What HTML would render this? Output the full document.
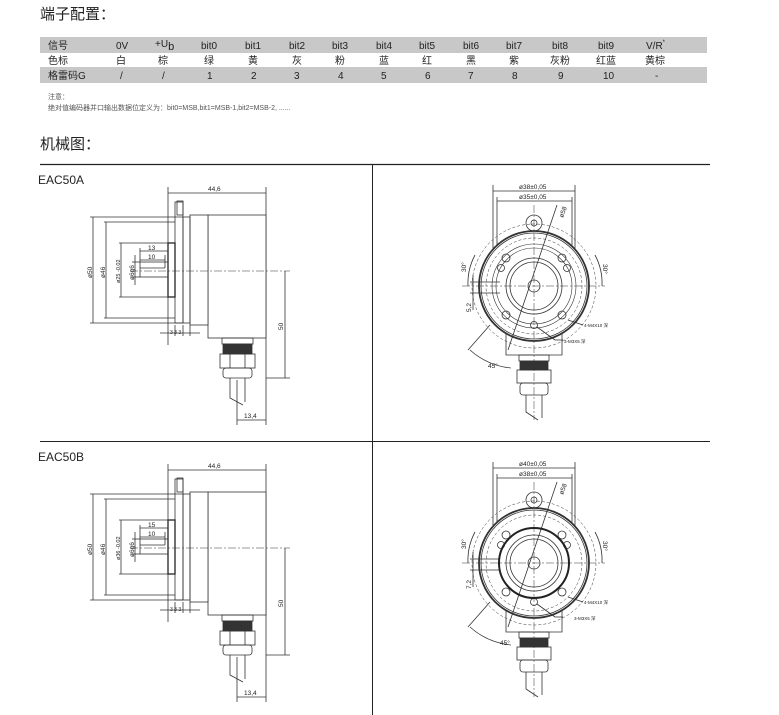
<!DOCTYPE html>
<html><head><meta charset="utf-8"><style>
body{margin:0;background:#fff;width:779px;height:715px;overflow:hidden}
svg{display:block}
text{font-family:"Liberation Sans","Noto Sans CJK SC",sans-serif;fill:#222}
</style></head><body>
<svg width="779" height="715" viewBox="0 0 779 715" xmlns="http://www.w3.org/2000/svg">
<defs>
<g id="leftA" stroke="#333" stroke-width="0.8" fill="none">
  <line x1="168" y1="187" x2="168" y2="345"/>
  <line x1="266" y1="187" x2="266" y2="425"/>
  <line x1="168" y1="193" x2="266" y2="193"/>
  <rect x="208" y="215" width="58" height="123" fill="#fff"/>
  <rect x="190" y="215" width="18" height="110" fill="#fff"/>
  <rect x="183" y="217" width="7" height="106"/>
  <rect x="175" y="202" width="8" height="121"/>
  <rect x="177" y="201" width="6" height="14"/>
  <rect x="168" y="243" width="7" height="54" stroke-width="1.4"/>
  <rect x="140" y="262" width="28" height="15"/>
  <line x1="140" y1="268" x2="165" y2="268"/>
  <line x1="130" y1="271" x2="290" y2="271" stroke-dasharray="8,2,2,2" stroke-width="0.5"/>
  <rect x="222" y="338" width="31" height="6"/>
  <rect x="223" y="344" width="29" height="10" fill="#333"/>
  <rect x="220" y="354" width="35" height="14"/>
  <line x1="230" y1="354" x2="230" y2="368"/><line x1="245" y1="354" x2="245" y2="368"/>
  <rect x="223" y="368" width="29" height="10" rx="3"/>
  <path d="M230 378 L230 398 L243 405 M245 378 L245 402"/>
  <line x1="266" y1="378" x2="290" y2="378"/>
  <line x1="285" y1="271" x2="285" y2="378"/>
  <line x1="237" y1="380" x2="237" y2="425"/>
  <line x1="237" y1="420" x2="266" y2="420"/>
  <line x1="93" y1="217" x2="93" y2="323"/>
  <line x1="90" y1="217" x2="183" y2="217"/><line x1="90" y1="323" x2="183" y2="323"/>
  <line x1="106" y1="222" x2="106" y2="318"/>
  <line x1="104" y1="222" x2="175" y2="222"/><line x1="104" y1="318" x2="175" y2="318"/>
  <line x1="121" y1="243" x2="121" y2="297"/>
  <line x1="119" y1="243" x2="168" y2="243"/><line x1="119" y1="297" x2="168" y2="297"/>
  <line x1="135" y1="255" x2="135" y2="285"/>
  <line x1="132" y1="262" x2="140" y2="262"/><line x1="132" y1="277" x2="140" y2="277"/>
  <line x1="140" y1="248" x2="140" y2="262"/><line x1="165" y1="255" x2="165" y2="268"/>
  <line x1="140" y1="251" x2="168" y2="251"/><line x1="140" y1="260" x2="165" y2="260"/>
  <line x1="160" y1="333" x2="200" y2="333"/>
  <line x1="175" y1="325" x2="175" y2="336"/><line x1="183" y1="325" x2="183" y2="336"/><line x1="190" y1="325" x2="190" y2="336"/>
</g>
<g id="rightA" stroke="#333" stroke-width="0.8" fill="none">
  <line x1="493" y1="185" x2="493" y2="290"/>
  <line x1="575" y1="185" x2="575" y2="290"/>
  <line x1="497" y1="197" x2="497" y2="290"/>
  <line x1="572" y1="197" x2="572" y2="290"/>
  <line x1="493" y1="191" x2="575" y2="191"/>
  <line x1="497" y1="201" x2="572" y2="201"/>
  <circle cx="534" cy="223" r="8"/><circle cx="534" cy="223" r="3"/>
  <path d="M506 330 L506 355 L562 355 L562 330"/>
  <circle cx="534" cy="286" r="55" stroke-width="1.8" fill="#fff"/>
  <circle cx="534" cy="286" r="53"/>
  <circle cx="534" cy="286" r="48" stroke-dasharray="3,2" stroke-width="0.5"/>
  <circle cx="534" cy="286" r="62" stroke-dasharray="3,2" stroke-width="0.5"/>
  <circle cx="534" cy="286" r="28"/>
  <circle cx="534" cy="286" r="24"/>
  <circle cx="534" cy="286" r="6"/>
  <circle cx="506" cy="258" r="4"/><circle cx="562" cy="258" r="4"/>
  <circle cx="501" cy="268" r="3.5"/><circle cx="567" cy="268" r="3.5"/>
  <circle cx="506" cy="315" r="4"/><circle cx="562" cy="315" r="4"/>
  <circle cx="534" cy="325" r="3.5"/>
  <line x1="462" y1="286" x2="605" y2="286" stroke-width="0.5" stroke-dasharray="8,2,2,2"/>
  <line x1="534" y1="205" x2="534" y2="420" stroke-width="0.5" stroke-dasharray="8,2,2,2"/>
  <line x1="508" y1="350" x2="557" y2="205"/>
  <line x1="470" y1="282" x2="500" y2="282"/>
  <line x1="470" y1="293" x2="500" y2="293"/>
  <line x1="473" y1="275" x2="473" y2="310"/>
  <path d="M475 255 A60 60 0 0 0 468 286"/>
  <path d="M595 255 A60 60 0 0 1 602 286"/>
  <line x1="468" y1="350" x2="490" y2="325"/>
  <path d="M470 350 A72 72 0 0 0 511 368"/>
  <line x1="568" y1="320" x2="583" y2="325"/>
  <line x1="537" y1="327" x2="555" y2="340"/><line x1="555" y1="340" x2="563" y2="340"/>
  <rect x="519" y="355" width="30" height="6"/>
  <rect x="520" y="361" width="28" height="9" fill="#333"/>
  <rect x="517" y="370" width="34" height="13"/>
  <rect x="520" y="383" width="28" height="12" rx="3"/>
  <path d="M526 395 L526 412 L538 420 M542 395 L542 418"/>
</g>
</defs>

<text x="40" y="19" font-size="15">端子配置：</text>
<rect x="40" y="37" width="667" height="16" fill="#c8c8c8"/>
<rect x="40" y="67" width="667" height="16" fill="#c8c8c8"/>
<g font-size="10" style="fill:#555">
<text x="48" y="49">信号</text><text x="116" y="49">0V</text><text x="155" y="47">+U<tspan font-size="11" dy="3">b</tspan></text>
<text x="201" y="49">bit0</text><text x="245" y="49">bit1</text><text x="289" y="49">bit2</text><text x="332" y="49">bit3</text><text x="376" y="49">bit4</text><text x="419" y="49">bit5</text><text x="463" y="49">bit6</text><text x="506" y="49">bit7</text><text x="552" y="49">bit8</text><text x="598" y="49">bit9</text><text x="646" y="49">V/R<tspan font-size="6" dy="-5">*</tspan></text>
<text x="48" y="64">色标</text><text x="116" y="64">白</text><text x="158" y="64">棕</text><text x="204" y="64">绿</text><text x="248" y="64">黄</text><text x="292" y="64">灰</text><text x="335" y="64">粉</text><text x="379" y="64">蓝</text><text x="422" y="64">红</text><text x="466" y="64">黑</text><text x="509" y="64">紫</text><text x="550" y="64">灰粉</text><text x="596" y="64">红蓝</text><text x="645" y="64">黄棕</text>
<text x="48" y="79">格雷码G</text><text x="120" y="79">/</text><text x="162" y="79">/</text><text x="207" y="79">1</text><text x="251" y="79">2</text><text x="294" y="79">3</text><text x="338" y="79">4</text><text x="381" y="79">5</text><text x="425" y="79">6</text><text x="468" y="79">7</text><text x="512" y="79">8</text><text x="558" y="79">9</text><text x="603" y="79">10</text><text x="655" y="79">-</text>
</g>
<text x="48" y="99" font-size="7" style="fill:#555">注意：</text>
<text x="48" y="110" font-size="7" style="fill:#555">绝对值编码器并口输出数据位定义为：bit0=MSB,bit1=MSB-1,bit2=MSB-2, ......</text>
<text x="40" y="149" font-size="15">机械图：</text>

<line x1="40" y1="164.5" x2="710" y2="164.5" stroke="#222" stroke-width="1.2"/>
<line x1="372.5" y1="164" x2="372.5" y2="715" stroke="#222" stroke-width="1"/>
<line x1="40" y1="441.5" x2="710" y2="441.5" stroke="#222" stroke-width="1"/>

<text x="38" y="184" font-size="12">EAC50A</text>
<text x="38" y="461" font-size="12">EAC50B</text>

<use href="#leftA"/>
<use href="#rightA"/>
<use href="#leftA" transform="translate(0,277)"/>
<use href="#rightA" transform="translate(0,277)"/>
<circle cx="534" cy="563" r="35" stroke="#222" stroke-width="2" fill="none"/>
<circle cx="534" cy="286" r="38" stroke="#333" stroke-width="0.6" fill="none"/>
<circle cx="534" cy="286" r="42" stroke="#333" stroke-width="0.6" fill="none"/>

<g font-size="6.5" fill="#333">
<text x="208" y="191">44,6</text><text x="208" y="468">44,6</text>
<text x="148" y="250">13</text><text x="148" y="527">15</text>
<text x="148" y="259">10</text><text x="148" y="536">10</text>
<text x="244" y="418">13,4</text><text x="244" y="695">13,4</text>
<text x="170" y="334" font-size="5">3 3 3</text><text x="170" y="611" font-size="5">3 3 3</text>
<text transform="translate(283,330) rotate(-90)">50</text><text transform="translate(283,607) rotate(-90)">50</text>
<text transform="translate(92,278) rotate(-90)">ø50</text><text transform="translate(92,555) rotate(-90)">ø50</text>
<text transform="translate(105,278) rotate(-90)">ø46</text><text transform="translate(105,555) rotate(-90)">ø46</text>
<text transform="translate(120,283) rotate(-90)" font-size="5.5">ø25 -0.02</text><text transform="translate(120,560) rotate(-90)" font-size="5.5">ø36 -0.02</text>
<text transform="translate(134,280) rotate(-90)" font-size="6.5">ø6g6</text><text transform="translate(134,557) rotate(-90)" font-size="6.5">ø6g6</text>
<text x="519" y="189">ø38±0,05</text><text x="519" y="466">ø40±0,05</text>
<text x="519" y="199">ø35±0,05</text><text x="519" y="476">ø38±0,05</text>
<text transform="translate(563,218) rotate(-70)">ø58</text><text transform="translate(563,495) rotate(-70)">ø58</text>
<text transform="translate(466,272) rotate(-90)">30°</text><text transform="translate(466,549) rotate(-90)">30°</text>
<text transform="translate(603,264) rotate(90)">30°</text><text transform="translate(603,541) rotate(90)">30°</text>
<text transform="translate(471,312) rotate(-90)">5,2</text><text transform="translate(471,589) rotate(-90)">7,2</text>
<text x="488" y="368">45°</text><text x="500" y="645">45°</text>
<text x="584" y="327" font-size="4.5">4-M4X10 深</text><text x="584" y="604" font-size="4.5">4-M4X10 深</text>
<text x="564" y="343" font-size="4.5">3-M3X5 深</text><text x="574" y="620" font-size="4.5">3-M3X5 深</text>
</g>
</svg>
</body></html>
